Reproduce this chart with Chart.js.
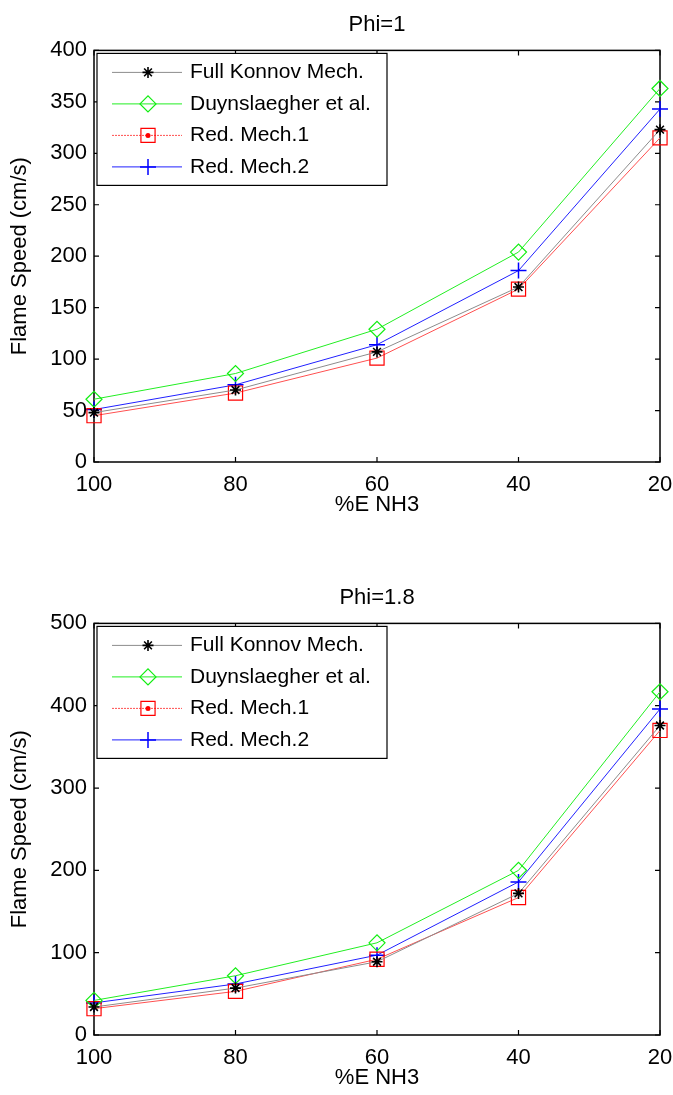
<!DOCTYPE html>
<html>
<head>
<meta charset="utf-8">
<script src="https://cdn.jsdelivr.net/npm/chart.js@4"></script>
<style>
body { margin: 0; background: #fff; }
#page { position: relative; width: 673px; height: 1095px; overflow: hidden; }
.chartBox { position: absolute; left: 0; width: 673px; height: 522px; }
</style>
</head>
<body>
<div id="page">
    <div class="chartBox" style="top:0"><canvas id="chart0" width="673" height="522"></canvas></div>
    <div class="chartBox" style="top:573px"><canvas id="chart1" width="673" height="522"></canvas></div>
</div>
<script>
// x categories (%E NH3)
var nh3Percent = [100, 80, 60, 40, 20];
var seriesLabels = ["Full Konnov Mech.", "Duynslaegher et al.", "Red. Mech.1", "Red. Mech.2"];

// Phi=1
var phi1Konnov = [48, 70, 107, 170, 323];
var phi1Duyn = [61, 86, 129, 204, 363];
var phi1Red1 = [45, 67, 101, 168, 315];
var phi1Red2 = [51, 75, 114, 186, 343];

// Phi=1.8
var phi18Konnov = [34, 57, 89, 172, 376];
var phi18Duyn = [42, 72, 112, 200, 417];
var phi18Red1 = [32, 53, 92, 167, 370];
var phi18Red2 = [39, 62, 97, 186, 396];

var chartTitles = ["Phi=1", "Phi=1.8"];
var yMaxes = [400, 500];
var yStepSizes = [50, 100];
var xTitle = "%E NH3";
var yTitle = "Flame Speed (cm/s)";

const FONT = '"Liberation Sans", Arial, sans-serif';

// MATLAB-like line/marker styles, one per series
var seriesStyles = [
    { borderColor: "#8c8c8c", pointBorderColor: "#000", pointStyle: "star", pointRadius: 5.5, pointBorderWidth: 1.6 },
    { borderColor: "#22ee22", pointBorderColor: "#11ee11", pointStyle: "rectRot", pointRadius: 8, pointBorderWidth: 1.2 },
    { borderColor: "#ff5050", pointBorderColor: "#ff0000", pointStyle: "rect", pointRadius: 10, pointBorderWidth: 1.2, legendDash: [2, 1], legendDot: true },
    { borderColor: "#2020ff", pointBorderColor: "#0000ff", pointStyle: "cross", pointRadius: 8, pointBorderWidth: 1.5 }
];

function toPoints(vals) {
    return nh3Percent.map((x, i) => ({ x: x, y: vals[i] }));
}

// box round the axes with inward ticks, like MATLAB
const boxPlugin = {
    id: 'matlabBox',
    beforeDatasetsDraw(chart) {
        const ctx = chart.ctx, a = chart.chartArea;
        const xs = chart.scales.x, ys = chart.scales.y;
        ctx.save();
        ctx.strokeStyle = "#000";
        ctx.lineWidth = 1.5;
        ctx.strokeRect(a.left, a.top, a.right - a.left, a.bottom - a.top);
        ctx.lineWidth = 1.2;
        ctx.beginPath();
        ys.ticks.forEach(t => {
            var y = ys.getPixelForValue(t.value);
            ctx.moveTo(a.left, y); ctx.lineTo(a.left + 5, y);
            ctx.moveTo(a.right, y); ctx.lineTo(a.right - 5, y);
        });
        xs.ticks.forEach(t => {
            var x = xs.getPixelForValue(t.value);
            ctx.moveTo(x, a.bottom); ctx.lineTo(x, a.bottom - 5);
            ctx.moveTo(x, a.top); ctx.lineTo(x, a.top + 5);
        });
        ctx.stroke();
        ctx.restore();
    }
};

// boxed legend in the top-left corner of the plot
const legendPlugin = {
    id: 'boxLegend',
    afterDatasetsDraw(chart) {
        const ctx = chart.ctx, a = chart.chartArea;
        const x0 = a.left + 3, y0 = a.top + 3;
        ctx.save();
        ctx.fillStyle = "#fff";
        ctx.fillRect(x0, y0, 290, 132);
        ctx.strokeStyle = "#000";
        ctx.lineWidth = 1.2;
        ctx.strokeRect(x0, y0, 290, 132);
        chart.data.datasets.forEach((ds, i) => {
            var y = a.top + 22 + i * 31.5;
            ctx.strokeStyle = ds.borderColor;
            ctx.lineWidth = 1;
            ctx.setLineDash(ds.legendDash || []);
            ctx.beginPath();
            ctx.moveTo(a.left + 18, y);
            ctx.lineTo(a.left + 88, y);
            ctx.stroke();
            ctx.setLineDash([]);
            ctx.strokeStyle = ds.pointBorderColor;
            ctx.fillStyle = "rgba(0,0,0,0)";
            ctx.lineWidth = ds.pointBorderWidth;
            Chart.helpers.drawPoint(ctx, {
                pointStyle: ds.pointStyle,
                radius: ds.pointRadius,
                borderWidth: ds.pointBorderWidth,
                rotation: 0
            }, a.left + 54, y);
            if (ds.legendDot) {
                ctx.fillStyle = ds.pointBorderColor;
                ctx.beginPath();
                ctx.arc(a.left + 54, y, 2.5, 0, Math.PI * 2);
                ctx.fill();
            }
            ctx.fillStyle = "#000";
            ctx.font = "21px " + FONT;
            ctx.textBaseline = "middle";
            ctx.textAlign = "left";
            ctx.fillText(ds.label, a.left + 96, y);
        });
        ctx.restore();
    }
};

var allSeries = [
    [phi1Konnov, phi1Duyn, phi1Red1, phi1Red2],
    [phi18Konnov, phi18Duyn, phi18Red1, phi18Red2]
];

for (var c = 0; c < 2; c++) {
    var datasets = [];
    for (var j = 0; j < 4; j++) {
        var st = seriesStyles[j];
        datasets.push(Object.assign({
            label: seriesLabels[j],
            data: toPoints(allSeries[c][j]),
            borderWidth: 1,
            pointBackgroundColor: "rgba(0,0,0,0)",
            pointHoverRadius: st.pointRadius,
            fill: false,
            clip: false,
            tension: 0
        }, st));
    }

    new Chart(document.getElementById("chart" + c), {
        type: "line",
        data: { datasets: datasets },
        plugins: [boxPlugin, legendPlugin],
        options: {
            responsive: false,
            animation: false,
            events: [],
            layout: { padding: { left: 0, right: 13, top: 0, bottom: 0 } },
            plugins: {
                legend: { display: false },
                tooltip: { enabled: false },
                title: {
                    display: true,
                    fullSize: false,
                    text: chartTitles[c],
                    color: "#000",
                    font: { family: FONT, size: 22, weight: "normal" },
                    padding: { top: 12, bottom: 12 }
                }
            },
            scales: {
                x: {
                    type: "linear",
                    reverse: true,
                    min: 20,
                    max: 100,
                    grid: { display: false, drawTicks: false },
                    border: { display: false },
                    ticks: {
                        stepSize: 20,
                        color: "#000",
                        padding: 10,
                        maxRotation: 0,
                        font: { family: FONT, size: 22 }
                    },
                    title: {
                        display: true,
                        text: xTitle,
                        color: "#000",
                        font: { family: FONT, size: 22 },
                        padding: { top: 0, bottom: 4 }
                    },
                    afterFit: function (scale) {
                        scale.height = 60;
                        scale.paddingLeft = 0;
                        scale.paddingRight = 0;
                    }
                },
                y: {
                    min: 0,
                    max: yMaxes[c],
                    grid: { display: false, drawTicks: false },
                    border: { display: false },
                    ticks: {
                        stepSize: yStepSizes[c],
                        color: "#000",
                        padding: 7,
                        font: { family: FONT, size: 22 }
                    },
                    title: {
                        display: true,
                        text: yTitle,
                        color: "#000",
                        font: { family: FONT, size: 22 },
                        padding: { top: 7, bottom: 0 }
                    },
                    afterFit: function (scale) {
                        scale.width = 94;
                        scale.paddingTop = 0;
                        scale.paddingBottom = 0;
                    }
                }
            }
        }
    });
}
</script>
</body>
</html>
